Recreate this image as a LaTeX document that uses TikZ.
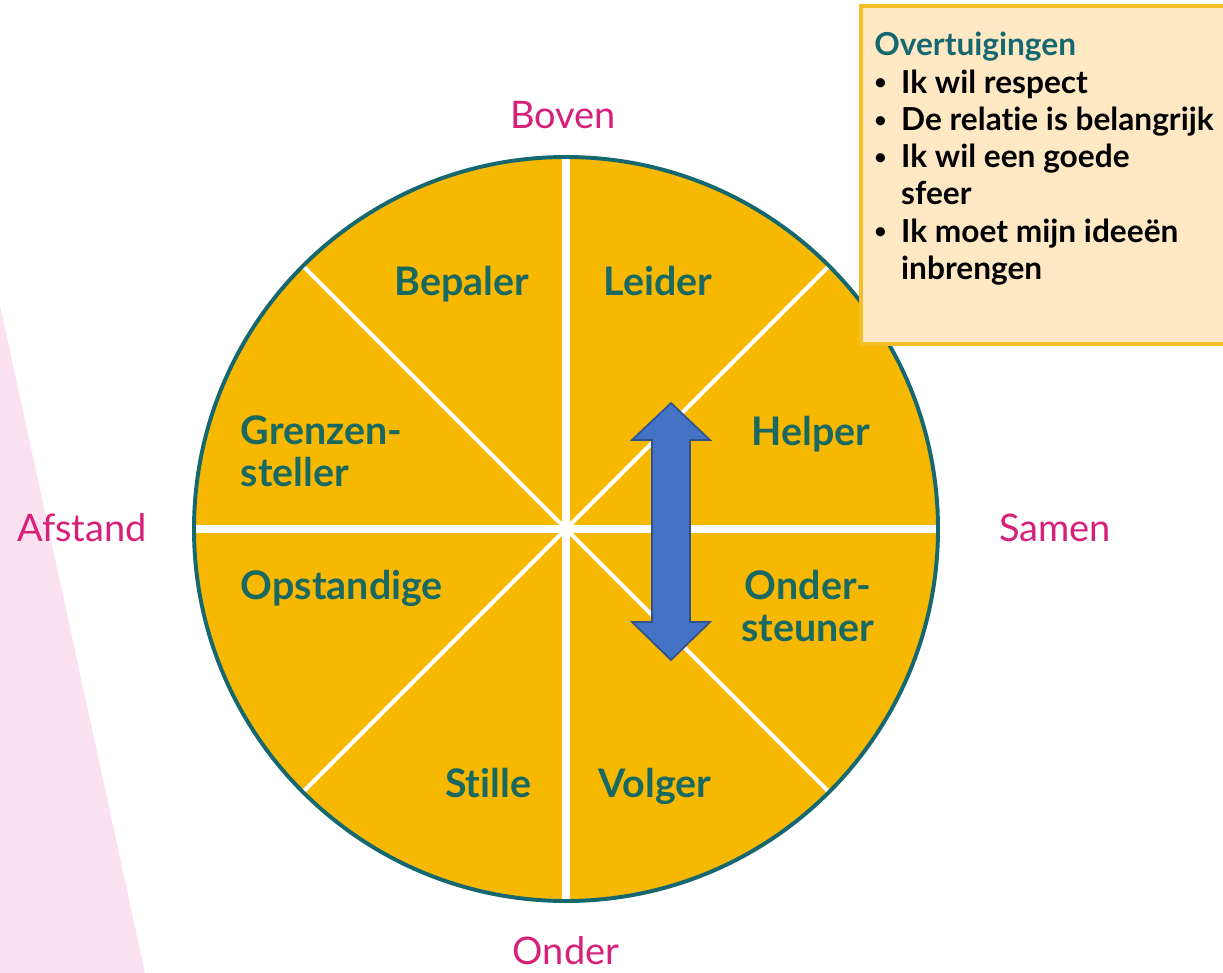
\documentclass[tikz,border=0pt]{standalone}
\usepackage{fontspec}
\setmainfont{Lato}[Ligatures=NoCommon]
\definecolor{amber}{RGB}{246,184,0}
\definecolor{rolteal}{RGB}{26,104,98}
\definecolor{randteal}{RGB}{22,104,112}
\definecolor{roze}{RGB}{214,32,122}
\definecolor{rozebg}{RGB}{252,226,240}
\definecolor{boxfill}{RGB}{255,232,196}
\definecolor{boxrand}{RGB}{245,190,40}
\definecolor{pijlblauw}{RGB}{68,114,196}
\definecolor{pijlrand}{RGB}{47,82,143}
\newcommand{\bol}{\makebox[0.85em][l]{\fontsize{15}{15}\selectfont\raisebox{0.15em}{•}}}
\tikzset{
  rol/.style={text=rolteal, font=\bfseries\fontsize{28}{29.5}\selectfont, anchor=base},
  richting/.style={text=roze, font=\fontsize{27}{32}\selectfont, anchor=base},
}

\begin{document}
\begin{tikzpicture}[x=0.025cm,y=-0.025cm]
    \useasboundingbox (0,0) rectangle (1223,973);
    % pink band on the left
    \fill[rozebg] (0,305) -- (145,973) -- (0,973) -- cycle;
    % the wheel
    \fill[amber] (566,529) circle (372);
    \foreach \a in {45,135}
        \draw[white, line width=2.8pt] ([shift={(\a:372)}]566,529) -- ([shift={(\a+180:372)}]566,529);
    \draw[white, line width=5pt] (566,157) -- (566,901);
    \draw[white, line width=5pt] (194,529) -- (938,529);
    \draw[randteal, line width=2.8pt] (566,529) circle (372);

    \node[rol] (bepaler) at (462,295) {Bepaler};
    \node[rol] (leider) at (658,295) {Leider};
    \node[rol, align=left, anchor=base west] (grenzen) at (236,486) {Grenzen-\\steller};
    \node[rol] (helper) at (811,445) {Helper};
    \node[rol, anchor=base west] (opstandige) at (236,599) {Opstandige};
    \node[rol, align=center] (ondersteuner) at (808,641) {Onder-\\steuner};
    \node[rol] (stille) at (488,797) {Stille};
    \node[rol] (volger) at (655,797) {Volger};

    \node[richting] (boven) at (563,128) {Boven};
    \node[richting] (onder) at (566,964) {Onder};
    \node[richting] (afstand) at (82,541) {Afstand};
    \node[richting] (samen) at (1055,541) {Samen};

    % box with beliefs
    \draw[boxrand, fill=boxfill, line width=2.8pt] (861,6) rectangle (1225,344);
    \node[anchor=north west, inner sep=0, align=left, font=\bfseries\fontsize{22.5}{26.5}\selectfont]
        (overtuigingen) at (874,32)
        {\textcolor{randteal}{Overtuigingen}\\
         \bol Ik wil respect\\
         \bol De relatie is belangrijk\\
         \bol Ik wil een goede\\
         \hspace*{0.85em}sfeer\\
         \bol Ik moet mijn ideeën\\
         \hspace*{0.85em}inbrengen};

    % double arrow
    \draw[fill=pijlblauw, draw=pijlrand, line width=1.2pt]
        (671,403) -- (710,440) -- (690,440) -- (690,622) -- (710,622) -- (671,660)
        -- (632,622) -- (652,622) -- (652,440) -- (632,440) -- cycle;
\end{tikzpicture}
\end{document}
